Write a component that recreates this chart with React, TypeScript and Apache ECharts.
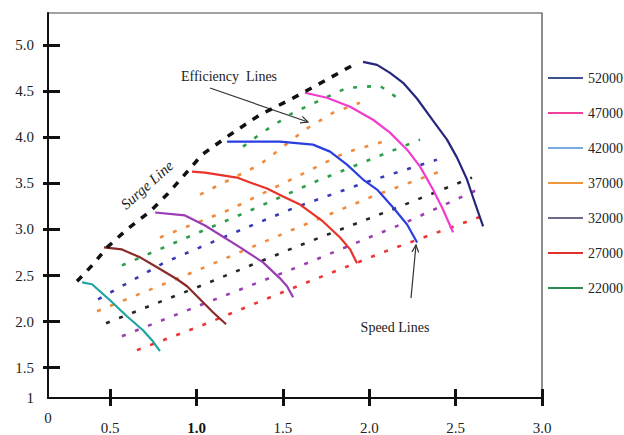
import React, { useEffect, useRef } from 'react';
import * as echarts from 'echarts';

// Axis ranges and tick labels (the corner labels "0" and "1" sit at the frame origin)
const xMin = 0.14;
const xMax = 3.0;
const yMin = 1.17;
const yMax = 5.35;
const xTicks = [0.5, 1.0, 1.5, 2.0, 2.5, 3.0];
const yTicks = [1.5, 2.0, 2.5, 3.0, 3.5, 4.0, 4.5, 5.0];

// Speed lines (legend names) and colours
const speedNames = ['52000', '47000', '42000', '37000', '32000', '27000', '22000'];
const speedLineColors = ['#26267e', '#f03ccf', '#2b3ee0', '#e8322a', '#9a3bb5', '#8a2a2a', '#1fa5a0'];
const legendColors = ['#3b5390', '#ee3f9a', '#7aaae2', '#f0963c', '#6b6b88', '#e0302a', '#2f8a4f'];

const speed52000 = [[1.964, 4.819], [2.045, 4.787], [2.12, 4.7], [2.196, 4.592], [2.277, 4.419], [2.369, 4.181], [2.45, 3.975], [2.508, 3.78], [2.566, 3.542], [2.601, 3.347], [2.659, 3.033]];
const speed47000 = [[1.628, 4.484], [1.755, 4.43], [1.889, 4.332], [2.022, 4.191], [2.12, 4.051], [2.219, 3.866], [2.294, 3.682], [2.369, 3.433], [2.427, 3.217], [2.485, 2.968]];
const speed42000 = [[1.176, 3.953], [1.483, 3.953], [1.674, 3.921], [1.773, 3.845], [1.871, 3.704], [1.964, 3.542], [2.045, 3.433], [2.138, 3.238], [2.219, 3.054], [2.277, 2.859]];
const speed37000 = [[0.974, 3.628], [1.049, 3.617], [1.234, 3.563], [1.31, 3.509], [1.408, 3.444], [1.501, 3.357], [1.599, 3.27], [1.732, 3.087], [1.831, 2.913], [1.889, 2.784], [1.929, 2.632]];
const speed32000 = [[0.76, 3.184], [0.933, 3.152], [1.049, 3.043], [1.252, 2.805], [1.385, 2.643], [1.483, 2.469], [1.524, 2.383], [1.559, 2.264]];
const speed27000 = [[0.464, 2.805], [0.568, 2.783], [0.673, 2.697], [0.771, 2.589], [0.887, 2.459], [0.945, 2.383], [1.02, 2.242], [1.095, 2.101], [1.171, 1.971]];
const speed22000 = [[0.337, 2.426], [0.395, 2.405], [0.499, 2.231], [0.597, 2.058], [0.69, 1.906], [0.742, 1.798], [0.788, 1.679]];
const speedData = [speed52000, speed47000, speed42000, speed37000, speed32000, speed27000, speed22000];

// Surge line
const surgeLine = [[0.308, 2.437], [0.401, 2.621], [0.482, 2.805], [0.597, 3.0], [0.731, 3.195], [0.829, 3.379], [0.916, 3.563], [1.032, 3.812], [1.194, 4.029], [1.367, 4.245], [1.541, 4.408], [1.773, 4.646], [1.929, 4.809]];

// Efficiency lines (dotted rows)
const eff1 = [[0.655, 1.69], [1.02, 1.95], [1.582, 2.383], [2.109, 2.773], [2.664, 3.152]];
const eff2 = [[0.568, 1.841], [1.02, 2.177], [1.582, 2.589], [2.224, 3.087], [2.641, 3.444]];
const eff3 = [[0.476, 1.982], [1.032, 2.394], [1.582, 2.816], [2.149, 3.228], [2.595, 3.563]];
const eff4 = [[0.424, 2.112], [0.991, 2.545], [1.559, 3.0], [2.016, 3.357], [2.439, 3.65]];
const eff5 = [[0.43, 2.242], [0.817, 2.643], [1.263, 3.0], [1.57, 3.238], [1.993, 3.52], [2.392, 3.758]];
const eff6 = [[0.568, 2.61], [0.945, 2.913], [1.35, 3.238], [1.703, 3.531], [2.12, 3.845], [2.294, 3.975]];
const eff7 = [[0.788, 2.913], [1.194, 3.217], [1.57, 3.563], [1.86, 3.834], [2.12, 3.975]];
const eff8 = [[1.02, 3.379], [1.367, 3.704], [1.628, 4.083], [1.79, 4.267], [1.946, 4.375]];
const eff9 = [[1.269, 3.899], [1.379, 4.051], [1.559, 4.267], [1.871, 4.538], [2.062, 4.559], [2.178, 4.408]];
const effData = [eff1, eff2, eff3, eff4, eff5, eff6, eff7, eff8, eff9];
const effColors = ['#ee3434', '#9a40b2', '#262626', '#f08a3c', '#3a3ab5', '#2e9e4a', '#f08a3c', '#f08a3c', '#2e9e4a'];

const serif = '"Liberation Serif", "DejaVu Serif", serif';

export default function App() {
  const ref = useRef<HTMLDivElement>(null);
  useEffect(() => {
    const chart = echarts.init(ref.current!, null, { renderer: 'svg' });
    const effSeries = effData.map((d, i) => ({
      name: 'eff' + (i + 1),
      type: 'line',
      data: d,
      symbol: 'none',
      silent: true,
      z: 2,
      lineStyle: { color: effColors[i], width: 2.6, type: [4, 10] },
    }));
    const speedSeries = speedData.map((d, i) => ({
      name: speedNames[i],
      type: 'line',
      data: d,
      symbol: 'none',
      z: 3,
      color: speedLineColors[i],
      lineStyle: { color: speedLineColors[i], width: 2.2 },
    }));
    const option = {
      animation: false,
      backgroundColor: '#ffffff',
      textStyle: { fontFamily: serif },
      grid: { left: 48, right: 82, top: 13, bottom: 36, show: true, borderColor: '#444', borderWidth: 1.2 },
      legend: {
        orient: 'vertical',
        left: 543,
        top: 66,
        icon: 'rect',
        itemWidth: 35,
        itemHeight: 2,
        itemGap: 21,
        textStyle: { fontFamily: serif, fontSize: 14, color: '#222' },
        data: speedNames.map((n, i) => ({ name: n, itemStyle: { color: legendColors[i] } })),
      },
      xAxis: [
        {
          type: 'value',
          min: xMin,
          max: xMax,
          splitLine: { show: false },
          axisLine: { show: true, onZero: false, lineStyle: { color: '#111', width: 2 } },
          axisTick: { show: true, inside: true, length: 9, lineStyle: { color: '#111', width: 3 }, customValues: xTicks },
          axisLabel: {
            margin: 12,
            customValues: [xMin, ...xTicks],
            color: '#222',
            fontFamily: serif,
            fontSize: 15,
            formatter: (v: number) => (v < 0.3 ? '{z|0}' : Math.abs(v - 1) < 1e-6 ? '{b|1.0}' : '{n|' + v.toFixed(1) + '}'),
            rich: {
              z: { fontFamily: serif, fontSize: 15, color: '#222' },
              n: { fontFamily: serif, fontSize: 15, color: '#222', padding: [10, 0, 0, 0] },
              b: { fontFamily: serif, fontSize: 15, color: '#111', fontWeight: 'bold', padding: [10, 0, 0, 0] },
            },
          },
        },
        {
          type: 'value',
          position: 'bottom',
          min: xMin,
          max: xMax,
          splitLine: { show: false },
          axisLine: { show: false, onZero: false },
          axisTick: { show: true, inside: false, length: 8, lineStyle: { color: '#111', width: 3 }, customValues: xTicks },
          axisLabel: { show: false },
        },
      ],
      yAxis: [
        {
          type: 'value',
          min: yMin,
          max: yMax,
          splitLine: { show: false },
          axisLine: { show: true, onZero: false, lineStyle: { color: '#111', width: 2 } },
          axisTick: { show: true, inside: true, length: 12, lineStyle: { color: '#111', width: 3 }, customValues: yTicks },
          axisLabel: {
            margin: 14,
            customValues: [yMin, ...yTicks],
            color: '#222',
            fontFamily: serif,
            fontSize: 15,
            formatter: (v: number) => (v < 1.4 ? '1' : v.toFixed(1)),
          },
        },
        {
          type: 'value',
          position: 'left',
          min: yMin,
          max: yMax,
          splitLine: { show: false },
          axisLine: { show: false, onZero: false },
          axisTick: { show: true, inside: false, length: 5, lineStyle: { color: '#111', width: 3 }, customValues: yTicks },
          axisLabel: { show: false },
        },
      ],
      series: [
        ...effSeries,
        {
          name: 'Surge Line',
          type: 'line',
          data: surgeLine,
          symbol: 'none',
          silent: true,
          z: 4,
          lineStyle: { color: '#111', width: 3.5, type: [7, 8] },
        },
        ...speedSeries,
      ],
      graphic: [
        {
          type: 'text',
          x: 229,
          y: 76,
          style: { text: 'Efficiency  Lines', fontFamily: serif, fontSize: 14, fill: '#222', align: 'center', verticalAlign: 'middle' },
        },
        { type: 'line', shape: { x1: 210, y1: 88, x2: 308, y2: 122 }, style: { stroke: '#333', lineWidth: 1.2 } },
        { type: 'polyline', shape: { points: [[302.3, 116.4], [308, 122], [300, 122.8]] }, style: { stroke: '#333', lineWidth: 1.2, fill: null } },
        {
          type: 'text',
          x: 147,
          y: 185,
          rotation: 0.73,
          style: { text: 'Surge Line', fontFamily: serif, fontSize: 15, fontStyle: 'italic', fill: '#222', align: 'center', verticalAlign: 'middle' },
        },
        {
          type: 'text',
          x: 395,
          y: 327,
          style: { text: 'Speed Lines', fontFamily: serif, fontSize: 14, fill: '#222', align: 'center', verticalAlign: 'middle' },
        },
        { type: 'line', shape: { x1: 411, y1: 298, x2: 416, y2: 245 }, style: { stroke: '#333', lineWidth: 1.2 } },
        { type: 'polyline', shape: { points: [[412, 251.9], [416, 245], [418.7, 252.5]] }, style: { stroke: '#333', lineWidth: 1.2, fill: null } },
      ],
    };
    chart.setOption(option as any);
    return () => chart.dispose();
  }, []);
  return <div ref={ref} style={{ position: 'fixed', left: 0, top: 0, width: 624, height: 435, background: '#fff' }} />;
}
